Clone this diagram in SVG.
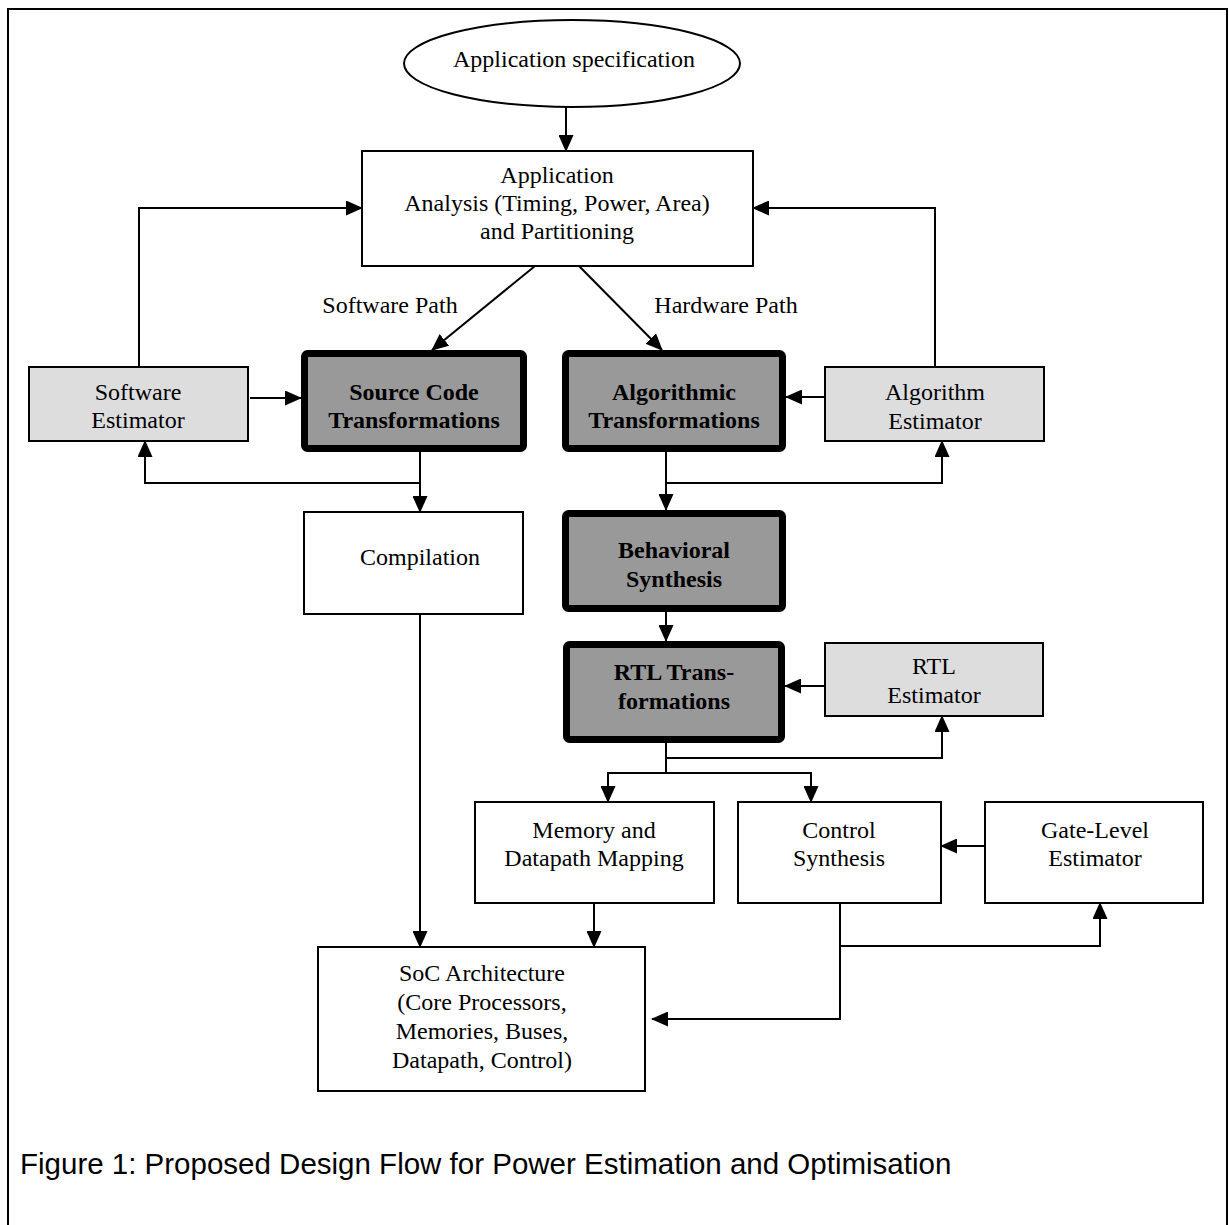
<svg xmlns="http://www.w3.org/2000/svg" width="1229" height="1225" viewBox="0 0 1229 1225">
<style>
  .t { font-family: "Liberation Serif", "Times New Roman", serif; font-size: 24px; fill: #000; text-anchor: middle; }
  .b { font-weight: bold; }
  .box { fill: #fff; stroke: #000; stroke-width: 2; }
  .est { fill: #ddd; stroke: #000; stroke-width: 2; }
  .heavy { fill: #999; stroke: #000; stroke-width: 7; }
  .c { fill: none; stroke: #000; stroke-width: 2; }
  .cap { font-family: "Liberation Sans", Arial, sans-serif; font-size: 29.5px; fill: #000; }
</style>
<defs>
  <marker id="ah" markerUnits="userSpaceOnUse" markerWidth="17" markerHeight="15" refX="16" refY="7.5" orient="auto">
    <path d="M0,0 L17,7.5 L0,15 z" fill="#000"/>
  </marker>
</defs>
<rect width="1229" height="1225" fill="#fff"/>
<path d="M8,1240 L8,9 L1227,9 L1227,1240" fill="none" stroke="#000" stroke-width="2"/>

<g id="spec">
  <ellipse cx="572" cy="63.5" rx="168" ry="43.5" fill="#fff" stroke="#000" stroke-width="2"/>
  <text class="t" x="574" y="67">Application specification</text>
</g>
<g id="analysis">
  <rect class="box" x="362" y="151" width="391" height="115"/>
  <text class="t" x="557" y="183">Application</text>
  <text class="t" x="557" y="211">Analysis (Timing, Power, Area)</text>
  <text class="t" x="557" y="239">and Partitioning</text>
</g>
<g id="swlabel"><text class="t" x="390" y="313">Software Path</text></g>
<g id="hwlabel"><text class="t" x="726" y="313">Hardware Path</text></g>
<g id="swest">
  <rect class="est" x="29" y="367" width="219" height="74"/>
  <text class="t" x="138" y="400">Software</text>
  <text class="t" x="138" y="428">Estimator</text>
</g>
<g id="srccode">
  <rect class="heavy" x="304.5" y="353.5" width="219" height="95" rx="3"/>
  <text class="t b" x="414" y="400">Source Code</text>
  <text class="t b" x="414" y="428">Transformations</text>
</g>
<g id="algo">
  <rect class="heavy" x="565.5" y="353.5" width="217" height="95" rx="3"/>
  <text class="t b" x="674" y="400">Algorithmic</text>
  <text class="t b" x="674" y="428">Transformations</text>
</g>
<g id="algest">
  <rect class="est" x="825" y="367" width="219" height="74"/>
  <text class="t" x="935" y="400">Algorithm</text>
  <text class="t" x="935" y="429">Estimator</text>
</g>
<g id="compilation">
  <rect class="box" x="304" y="512" width="219" height="102"/>
  <text class="t" x="420" y="565">Compilation</text>
</g>
<g id="behav">
  <rect class="heavy" x="565.5" y="513.5" width="217" height="95" rx="3"/>
  <text class="t b" x="674" y="558">Behavioral</text>
  <text class="t b" x="674" y="587">Synthesis</text>
</g>
<g id="rtl">
  <rect class="heavy" x="566.5" y="644.5" width="215" height="95" rx="3"/>
  <text class="t b" x="674" y="680">RTL Trans-</text>
  <text class="t b" x="674" y="709">formations</text>
</g>
<g id="rtlest">
  <rect class="est" x="825" y="643" width="218" height="73"/>
  <text class="t" x="934" y="674">RTL</text>
  <text class="t" x="934" y="703">Estimator</text>
</g>
<g id="memory">
  <rect class="box" x="475" y="802" width="239" height="101"/>
  <text class="t" x="594" y="838">Memory and</text>
  <text class="t" x="594" y="866">Datapath Mapping</text>
</g>
<g id="control">
  <rect class="box" x="738" y="802" width="203" height="101"/>
  <text class="t" x="839" y="838">Control</text>
  <text class="t" x="839" y="866">Synthesis</text>
</g>
<g id="gateest">
  <rect class="box" x="985" y="802" width="218" height="101"/>
  <text class="t" x="1095" y="838">Gate-Level</text>
  <text class="t" x="1095" y="866">Estimator</text>
</g>
<g id="soc">
  <rect class="box" x="318" y="947" width="327" height="144"/>
  <text class="t" x="482" y="981">SoC Architecture</text>
  <text class="t" x="482" y="1010">(Core Processors,</text>
  <text class="t" x="482" y="1039">Memories, Buses,</text>
  <text class="t" x="482" y="1068">Datapath, Control)</text>
</g>

<g id="connectors">
  <path class="c" d="M566,107 L566,151" marker-end="url(#ah)"/>
  <path class="c" d="M139,367 L139,208 L362,208" marker-end="url(#ah)"/>
  <path class="c" d="M935,367 L935,208 L753,208" marker-end="url(#ah)"/>
  <path class="c" d="M535,266 L432,350" marker-end="url(#ah)"/>
  <path class="c" d="M579,266 L662,350" marker-end="url(#ah)"/>
  <path class="c" d="M250,398 L301,398" marker-end="url(#ah)"/>
  <path class="c" d="M825,397 L786,397" marker-end="url(#ah)"/>
  <path class="c" d="M420,452 L420,512" marker-end="url(#ah)"/>
  <path class="c" d="M420,483 L145,483 L145,441" marker-end="url(#ah)"/>
  <path class="c" d="M666,452 L666,510" marker-end="url(#ah)"/>
  <path class="c" d="M666,483 L942,483 L942,441" marker-end="url(#ah)"/>
  <path class="c" d="M666,612 L666,641" marker-end="url(#ah)"/>
  <path class="c" d="M825,686 L785,686" marker-end="url(#ah)"/>
  <path class="c" d="M666,743 L666,773"/>
  <path class="c" d="M666,758 L942,758 L942,716" marker-end="url(#ah)"/>
  <path class="c" d="M666,773 L608,773 L608,802" marker-end="url(#ah)"/>
  <path class="c" d="M666,773 L811,773 L811,802" marker-end="url(#ah)"/>
  <path class="c" d="M985,846 L941,846" marker-end="url(#ah)"/>
  <path class="c" d="M420,614 L420,947" marker-end="url(#ah)"/>
  <path class="c" d="M594,903 L594,947" marker-end="url(#ah)"/>
  <path class="c" d="M840,903 L840,1019 L652,1019" marker-end="url(#ah)"/>
  <path class="c" d="M840,946 L1100,946 L1100,903" marker-end="url(#ah)"/>
</g>

<g id="caption">
  <text class="cap" x="20" y="1174">Figure 1: Proposed Design Flow for Power Estimation and Optimisation</text>
</g>
</svg>
